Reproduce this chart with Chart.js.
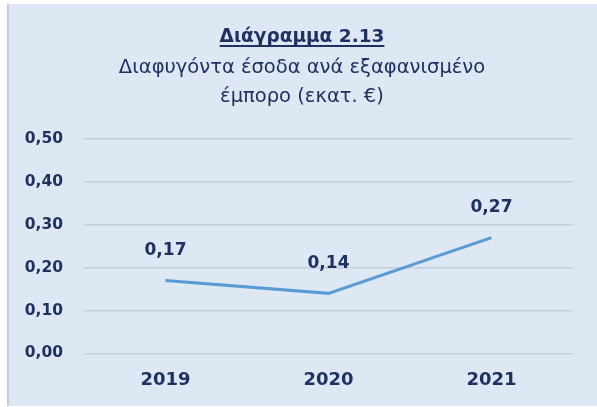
<!DOCTYPE html>
<html>
<head>
<meta charset="utf-8">
<script src="https://cdn.jsdelivr.net/npm/chart.js@4"></script>
<style>
  html, body { margin: 0; padding: 0; background: #ffffff; }
  #wrap { position: relative; width: 597px; height: 407px; }
  canvas { display: block; }
</style>
</head>
<body>
<div id="wrap"><canvas id="c" width="597" height="407"></canvas></div>
<script>
// Chart content
const titleText = 'Διάγραμμα 2.13';
const subtitleLines = ['Διαφυγόντα έσοδα ανά εξαφανισμένο', 'έμπορο (εκατ. €)'];
const years = ['2019', '2020', '2021'];
const lostRevenue = [0.17, 0.14, 0.27];
const yTicks = [0, 0.1, 0.2, 0.3, 0.4, 0.5];

const NAVY = '#1f3163';
const PANEL = '#dde8f4';
const FONT = "'DejaVu Sans', Verdana, sans-serif";

const fmt = v => v.toFixed(2).replace('.', ',');

// Light blue panel behind the chart
const panelPlugin = {
  id: 'panel',
  beforeDraw(chart) {
    const ctx = chart.ctx;
    ctx.save();
    ctx.fillStyle = PANEL;
    ctx.fillRect(7, 4, chart.width - 7, 402);
    ctx.fillStyle = 'rgba(190,198,208,0.8)';
    ctx.fillRect(7, 4, 2, 402);
    ctx.restore();
  }
};

// Heading block: bold underlined caption plus a two-line description
const headingPlugin = {
  id: 'heading',
  afterDraw(chart) {
    const ctx = chart.ctx;
    const cx = 302;
    ctx.save();
    ctx.fillStyle = NAVY;
    ctx.textAlign = 'center';
    ctx.textBaseline = 'middle';
    ctx.font = `bold 18.5px ${FONT}`;
    ctx.fillText(titleText, cx, 37);
    const w = ctx.measureText(titleText).width;
    ctx.fillRect(cx - w / 2, 45, w, 2);
    ctx.font = `19.5px ${FONT}`;
    subtitleLines.forEach((line, i) => ctx.fillText(line, cx, 68 + i * 29));
    ctx.restore();
  }
};

// Value labels above each point
const valueLabelPlugin = {
  id: 'valueLabels',
  afterDatasetsDraw(chart) {
    const ctx = chart.ctx;
    const meta = chart.getDatasetMeta(0);
    const data = chart.data.datasets[0].data;
    ctx.save();
    ctx.font = `bold 17px ${FONT}`;
    ctx.fillStyle = NAVY;
    ctx.textAlign = 'center';
    ctx.textBaseline = 'middle';
    meta.data.forEach((pt, i) => {
      ctx.fillText(fmt(data[i]), pt.x, pt.y - 30);
    });
    ctx.restore();
  }
};

new Chart(document.getElementById('c'), {
  type: 'line',
  data: {
    labels: years,
    datasets: [{
      data: lostRevenue,
      borderColor: '#5b9bd5',
      borderWidth: 3,
      pointRadius: 0,
      pointHoverRadius: 0,
      tension: 0,
      fill: false
    }]
  },
  options: {
    responsive: false,
    animation: false,
    layout: { padding: { top: 139, right: 24, bottom: 0, left: 0 } },
    plugins: {
      legend: { display: false },
      tooltip: { enabled: false },
      title: { display: false },
      subtitle: { display: false }
    },
    scales: {
      x: {
        offset: true,
        grid: { display: false, drawTicks: false },
        border: { display: false },
        ticks: {
          color: NAVY,
          padding: 16,
          font: { family: FONT, size: 18, weight: 'bold' }
        }
      },
      y: {
        min: 0,
        max: 0.5,
        afterBuildTicks(scale) { scale.ticks = yTicks.map(v => ({ value: v })); },
        afterFit(scale) { scale.width = 84; },
        grid: { color: 'rgba(196,203,212,0.9)', lineWidth: 1.5, drawTicks: false },
        border: { display: false },
        ticks: {
          color: NAVY,
          padding: 21,
          font: { family: FONT, size: 15.5, weight: 'bold' },
          callback: v => fmt(v)
        }
      }
    }
  },
  plugins: [panelPlugin, headingPlugin, valueLabelPlugin]
});
</script>
</body>
</html>
